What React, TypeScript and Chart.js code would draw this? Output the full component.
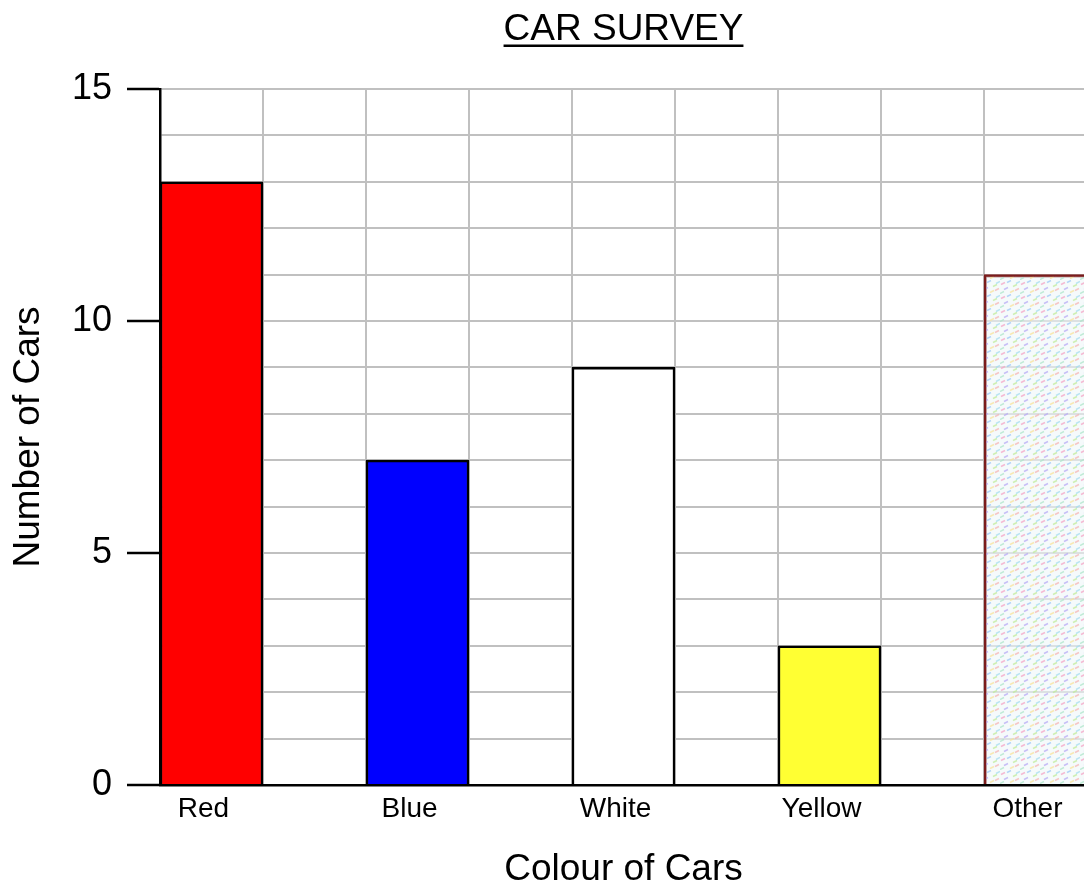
import React, { useEffect, useRef } from 'react';
import { Chart, registerables } from 'chart.js';

Chart.register(...registerables);

// ---- data ----
const categories = ['Red', 'Blue', 'White', 'Yellow', 'Other'];
const carCounts = [13, 7, 9, 3, 11];
const barFills = ['#ff0000', '#0000ff', '#ffffff', '#ffff33', 'PATTERN'];
const barBorders = ['#000000', '#000000', '#000000', '#000000', '#7b1c1c'];
const yTickLabels = [0, 5, 10, 15];
const yMin = 0;
const yMax = 15;
const chartTitle = 'CAR SURVEY';
const xAxisTitle = 'Colour of Cars';
const yAxisTitle = 'Number of Cars';

// ---- styles ----
const FAMILY = "'Liberation Sans', Arial, sans-serif";
const GRID = '#c0c0c0';
const TITLE_SIZE = 37;
const TITLE_PAD_TOP = 8;
const TITLE_PAD_BOTTOM = 36.6;

function makePattern(): CanvasPattern | string {
  const c = document.createElement('canvas');
  c.width = 20;
  c.height = 14;
  const g = c.getContext('2d');
  if (!g) return 'rgba(230,235,245,0.5)';
  g.fillStyle = 'rgba(238,246,248,0.6)';
  g.fillRect(0, 0, 20, 14);
  const strokes: [number, number, string][] = [
    [1, 3, 'rgba(245,160,195,0.7)'],
    [7, 1, 'rgba(150,195,245,0.7)'],
    [13, 5, 'rgba(190,235,150,0.7)'],
    [4, 8, 'rgba(180,165,245,0.7)'],
    [10, 11, 'rgba(250,225,150,0.7)'],
    [16, 2, 'rgba(160,220,240,0.7)'],
    [15, 9, 'rgba(245,175,175,0.7)'],
    [0, 12, 'rgba(170,230,200,0.7)'],
  ];
  g.lineWidth = 1.5;
  for (const [x, y, col] of strokes) {
    g.strokeStyle = col;
    g.beginPath();
    g.moveTo(x, y + 1.5);
    g.lineTo(x + 4, y - 0.5);
    g.stroke();
  }
  return g.createPattern(c, 'repeat') || 'rgba(230,235,245,0.5)';
}

const underlinePlugin = {
  id: 'titleUnderline',
  afterDraw(chart: any) {
    const tb = chart.titleBlock;
    if (!tb) return;
    const ctx = chart.ctx as CanvasRenderingContext2D;
    ctx.save();
    ctx.font = `normal ${TITLE_SIZE}px ${FAMILY}`;
    const w = ctx.measureText(chartTitle).width;
    const cx = (tb.left + tb.right) / 2;
    const cy = tb.top + TITLE_PAD_TOP + (TITLE_SIZE * 1.2) / 2;
    const y = cy + TITLE_SIZE * 0.31 + 4;
    ctx.strokeStyle = '#000';
    ctx.lineWidth = 2.5;
    ctx.beginPath();
    ctx.moveTo(cx - w / 2, y);
    ctx.lineTo(cx + w / 2, y);
    ctx.stroke();
    ctx.restore();
  },
};

export default function App() {
  const ref = useRef<HTMLCanvasElement | null>(null);

  useEffect(() => {
    if (!ref.current) return;
    const pattern = makePattern();

    // each category takes two slots: the bar, then an empty gap
    const slotLabels: string[] = [];
    const slotValues: (number | null)[] = [];
    const slotFills: any[] = [];
    const slotBorders: string[] = [];
    categories.forEach((c, i) => {
      slotLabels.push(c);
      slotValues.push(carCounts[i]);
      slotFills.push(barFills[i] === 'PATTERN' ? pattern : barFills[i]);
      slotBorders.push(barBorders[i]);
      if (i < categories.length - 1) {
        slotLabels.push('');
        slotValues.push(null);
        slotFills.push('rgba(0,0,0,0)');
        slotBorders.push('rgba(0,0,0,0)');
      }
    });

    const chart = new Chart(ref.current, {
      type: 'bar',
      data: {
        labels: slotLabels,
        datasets: [
          {
            data: slotValues as any,
            backgroundColor: slotFills,
            borderColor: slotBorders,
            borderWidth: 2.5,
            barPercentage: 1,
            categoryPercentage: 1,
          },
        ],
      },
      options: {
        animation: false,
        responsive: true,
        maintainAspectRatio: false,
        layout: { padding: { left: 0, right: 5, top: 0, bottom: 0 } },
        plugins: {
          legend: { display: false },
          tooltip: { enabled: false },
          title: {
            display: true,
            text: chartTitle,
            fullSize: false,
            color: '#000',
            font: { size: TITLE_SIZE, family: FAMILY, weight: 'normal' },
            padding: { top: TITLE_PAD_TOP, bottom: TITLE_PAD_BOTTOM },
          },
        },
        scales: {
          x: {
            border: { display: true, color: '#000', width: 2.5 },
            grid: {
              offset: true,
              drawTicks: false,
              lineWidth: 2,
              color: (ctx: any) => (ctx.index === 0 ? '#000' : GRID),
            },
            ticks: {
              autoSkip: false,
              maxRotation: 0,
              minRotation: 0,
              padding: 7,
              labelOffset: -8,
              color: '#000',
              font: { size: 28, family: FAMILY },
            },
            title: {
              display: true,
              text: xAxisTitle,
              color: '#000',
              font: { size: 37, family: FAMILY },
              padding: { top: 0, bottom: 0.5 },
            },
            afterFit: (s: any) => {
              s.height = 107;
            },
          },
          y: {
            min: yMin,
            max: yMax,
            border: { display: true, color: '#000', width: 2.5 },
            grid: {
              lineWidth: 2,
              tickLength: 33,
              tickWidth: 2.5,
              color: (ctx: any) => (ctx.tick && ctx.tick.value === 0 ? '#000' : GRID),
              tickColor: (ctx: any) =>
                ctx.tick && yTickLabels.includes(ctx.tick.value) ? '#000' : 'rgba(0,0,0,0)',
            },
            ticks: {
              stepSize: 1,
              autoSkip: false,
              padding: 15,
              color: '#000',
              font: { size: 36, family: FAMILY },
              callback: (v: any) => (yTickLabels.includes(Number(v)) ? String(v) : ''),
            },
            title: {
              display: true,
              text: yAxisTitle,
              color: '#000',
              font: { size: 37, family: FAMILY },
              padding: { top: 7, bottom: 0 },
            },
            afterFit: (s: any) => {
              s.width = 160;
            },
          },
        },
      },
      plugins: [underlinePlugin],
    });
    return () => chart.destroy();
  }, []);

  return (
    <div
      style={{
        position: 'fixed',
        left: 0,
        top: 0,
        width: 1084,
        height: 886,
        overflow: 'hidden',
        background: '#fff',
      }}
    >
      <div style={{ position: 'relative', width: 1092, height: 892 }}>
        <canvas ref={ref} />
      </div>
    </div>
  );
}
